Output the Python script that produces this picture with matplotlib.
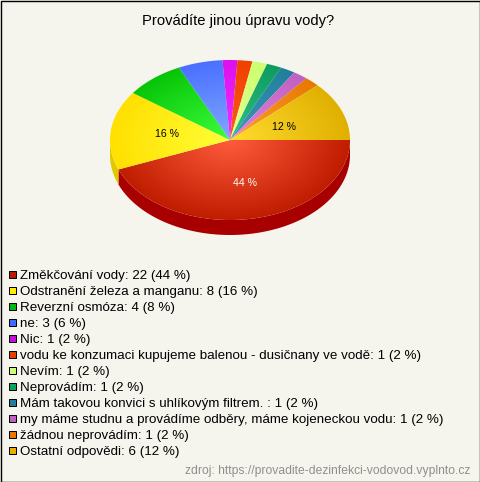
import numpy as np
import matplotlib
matplotlib.use("Agg")
import matplotlib.pyplot as plt
from matplotlib.colors import to_rgb
from matplotlib.patches import Polygon, Rectangle

plt.rcParams['font.family'] = ['Liberation Sans', 'DejaVu Sans']

# -------- Data -------- #
title = "Provádíte jinou úpravu vody?"
source = "zdroj: https://provadite-dezinfekci-vodovod.vyplnto.cz"
names = ["Změkčování vody", "Odstranění železa a manganu", "Reverzní osmóza", "ne", "Nic",
         "vodu ke konzumaci kupujeme balenou - dusičnany ve vodě", "Nevím", "Neprovádím",
         "Mám takovou konvici s uhlíkovým filtrem. ",
         "my máme studnu a provádíme odběry, máme kojeneckou vodu", "žádnou neprovádím",
         "Ostatní odpovědi"]
counts = [22, 8, 4, 3, 1, 1, 1, 1, 1, 1, 1, 6]
percents = [44, 16, 8, 6, 2, 2, 2, 2, 2, 2, 2, 12]

legend_colors = ['#b81c00', '#ffee00', '#00b814', '#3f6cff', '#c010d0', '#e04000',
                 '#ccff77', '#0ea060', '#1f7f9f', '#c060c0', '#e87800', '#e8b000']
inner_colors = ['#ff5c3c', '#ffff38', '#3cff3c', '#80a8ff', '#f030ff', '#ff5a20',
                '#e4ff90', '#30c088', '#3c98b8', '#e084e0', '#ffa030', '#ffdc30']
outer_colors = ['#c01c00', '#ffe000', '#08c408', '#4a70ff', '#dc10ec', '#f04000',
                '#ccff70', '#0c9c60', '#20809c', '#c060c0', '#e87800', '#e0b000']
side_colors = ['#a80000', '#e0c800']

# -------- Layout (pixels) -------- #
W, H = 480, 482
cx, cy, rx, ry, depth = 230, 140, 120, 80, 15
bg = '#f5f5ee'

fig = plt.figure(figsize=(W / 100, H / 100), dpi=100, facecolor=bg)
ax = fig.add_axes([0, 0, 1, 1])
ax.set_xlim(0, W)
ax.set_ylim(H, 0)
ax.axis('off')


def ellipse_pts(a0, a1, dy=0):
    t = np.radians(np.linspace(a0, a1, max(int(a1 - a0) * 2, 4)))
    return np.column_stack([cx + rx * np.cos(t), cy + dy + ry * np.sin(t)])


angles = np.concatenate([[0], np.cumsum(counts) / np.sum(counts) * 360])

# --- Side of the pie --- #
for i, color in enumerate(side_colors):
    a0, a1 = angles[i], min(angles[i + 1], 180)
    top = ellipse_pts(a0, a1)
    bottom = ellipse_pts(a0, a1, depth)[::-1]
    ax.add_patch(Polygon(np.vstack([top, bottom]), closed=True, fc=color, ec='none', zorder=1))

# --- Top face with radial gradient --- #
xx, yy = np.meshgrid(np.linspace(cx - rx, cx + rx, 480), np.linspace(cy - ry, cy + ry, 320))
dist = np.clip(np.sqrt(((xx - cx) / rx) ** 2 + ((yy - cy) / ry) ** 2), 0, 1)[..., None]
for i in range(len(counts)):
    pts = np.vstack([[cx, cy], ellipse_pts(angles[i], angles[i + 1])])
    c0 = np.array(to_rgb(inner_colors[i]))
    c1 = np.array(to_rgb(outer_colors[i]))
    img = c0 + (c1 - c0) * dist
    im = ax.imshow(img, extent=[cx - rx, cx + rx, cy + ry, cy - ry], aspect='auto', zorder=2,
                   interpolation='bilinear')
    im.set_clip_path(Polygon(pts, closed=True, transform=ax.transData))
ax.set_xlim(0, W)
ax.set_ylim(H, 0)

# --- Percent labels on the big slices --- #
ax.text(245, 182.5, f"{percents[0]} %", color='white', fontsize=7.6, ha='center', va='center', zorder=3)
ax.text(167, 134, f"{percents[1]} %", color='black', fontsize=7.6, ha='center', va='center', zorder=3)
ax.text(284, 127, f"{percents[11]} %", color='black', fontsize=7.6, ha='center', va='center', zorder=3)

ax.text(238, 21, title, color='black', fontsize=10.6, ha='center', va='center')

# --- Legend --- #
for i, name in enumerate(names):
    y = 274 + i * 16
    ax.add_patch(Rectangle((9.2, y - 3.5), 7, 7, fc=legend_colors[i], ec='black', lw=0.72,
                           joinstyle='miter'))
    ax.text(20, y + 5, f"{name}: {counts[i]} ({percents[i]} %)", color='black', fontsize=9.6,
            ha='left', va='baseline')

ax.text(470, 471, source, color='#8f8f8f', fontsize=8.75, ha='right', va='center')

# outer frame
ax.add_patch(Rectangle((0.5, 0.5), W - 1, H - 1, fc='none', ec='black', lw=1, zorder=5))

fig.savefig('out.png', dpi=100, facecolor=bg)
